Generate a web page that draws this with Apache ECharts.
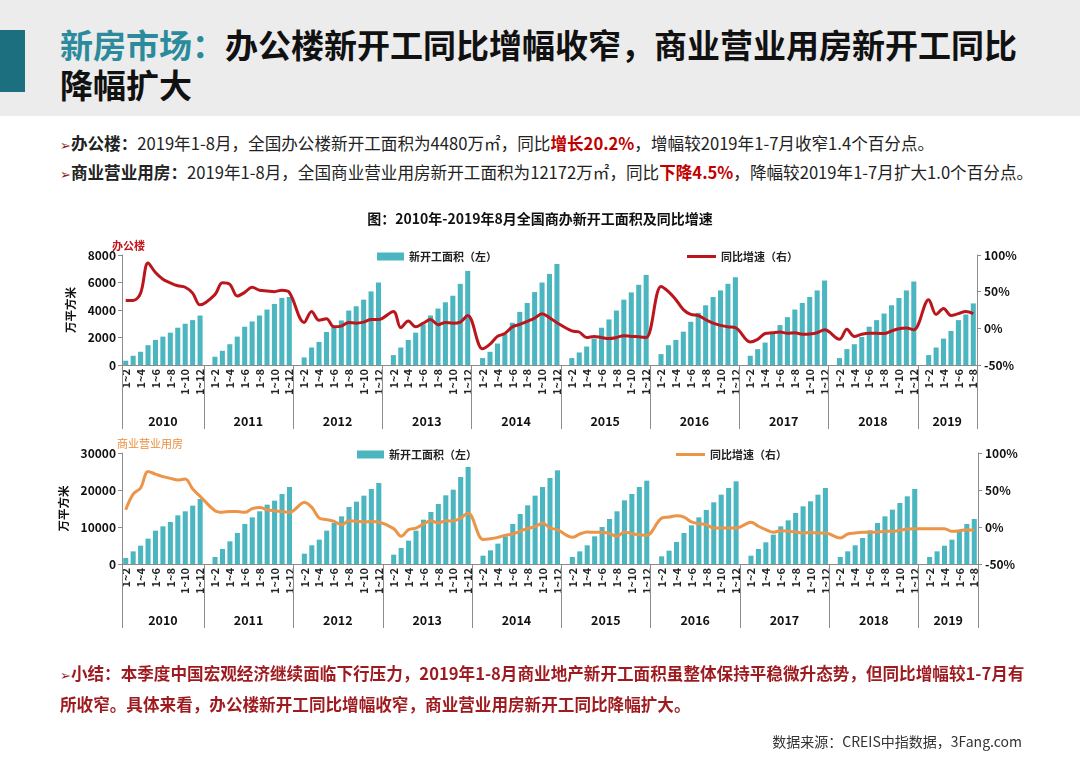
<!DOCTYPE html>
<html><head><meta charset="utf-8">
<script src="https://cdn.jsdelivr.net/npm/echarts@6/dist/echarts.min.js"></script>
<style>
html,body{margin:0;padding:0;background:#fff;}
#page{position:relative;width:1080px;height:764px;overflow:hidden;background:#fff;font-family:"Noto Sans CJK SC","Noto Sans",sans-serif;}
#hdr{position:absolute;left:0;top:0;width:1080px;height:116px;background:#ececec;}
#bar{position:absolute;left:0;top:30px;width:25px;height:62px;background:#1b6f7f;}
#title{position:absolute;left:60px;top:24px;font-size:33px;font-weight:bold;line-height:40px;color:#111;white-space:nowrap;}
#title .hl{color:#2b8b9c;}
.bul{position:absolute;left:60px;font-size:16.6px;color:#222;white-space:nowrap;}
.arr{color:#8b1a1a;font-family:"DejaVu Sans",sans-serif;font-size:13px;}
.red{color:#c00000;font-weight:bold;}
#chart{position:absolute;left:0;top:0;width:1080px;height:764px;}
#sum{position:absolute;left:60px;top:659px;font-size:16.6px;font-weight:bold;color:#9e1a1e;line-height:29px;white-space:nowrap;}
#src{position:absolute;right:58px;top:731px;font-size:14px;color:#333;white-space:nowrap;}
</style>
</head><body>
<div id="page">
  <div id="hdr"></div>
  <div id="bar"></div>
  <div id="title"><span class="hl">新房市场：</span>办公楼新开工同比增幅收窄，商业营业用房新开工同比<br>降幅扩大</div>
  <div class="bul" style="top:131px;"><span class="arr">➢</span><b>办公楼：</b>2019年1-8月，全国办公楼新开工面积为4480万㎡，同比<span class="red">增长20.2%</span>，增幅较2019年1-7月收窄1.4个百分点。</div>
  <div class="bul" style="top:160px;"><span class="arr">➢</span><b>商业营业用房：</b>2019年1-8月，全国商业营业用房新开工面积为12172万㎡，同比<span class="red">下降4.5%</span>，降幅较2019年1-7月扩大1.0个百分点。</div>
  <div id="chart"></div>
  <div id="sum"><span class="arr">➢</span>小结：本季度中国宏观经济继续面临下行压力，2019年1-8月商业地产新开工面积虽整体保持平稳微升态势，但同比增幅较1-7月有<br>所收窄。具体来看，办公楼新开工同比增幅收窄，商业营业用房新开工同比降幅扩大。</div>
  <div id="src">数据来源：CREIS中指数据，3Fang.com</div>
</div>
<script>
// ---------- data ----------
const years = ['2010','2011','2012','2013','2014','2015','2016','2017','2018','2019'];
const periodLabels = ['1~2','1~3','1~4','1~5','1~6','1~7','1~8','1~9','1~10','1~11','1~12'];
const periodsPerYear = [11,11,11,11,11,11,11,11,11,7];

const officeArea = [
  312,672,960,1440,1824,2064,2352,2712,3000,3264,3600,
  600,1032,1512,2064,2784,3168,3600,4032,4440,4880,4950,
  552,1272,1680,2400,2784,3240,3960,4272,4752,5352,6000,
  720,1272,1824,2352,2952,3600,4104,4560,5040,5904,6840,
  504,960,1560,2232,3072,3864,4512,5304,6000,6624,7344,
  504,912,1344,1920,2712,3312,3960,4752,5280,5832,6552,
  792,1440,1824,2424,3144,3792,4344,4944,5424,5904,6384,
  672,1152,1632,2280,2904,3480,4032,4512,4944,5424,6144,
  504,1152,1512,2040,2784,3264,3744,4344,4872,5424,6072,
  720,1272,1920,2472,3264,3672,4480
];
const officeYoY = [
  38,38,48,89,76,67,62,58,56,48,32,
  46,62,60,44,49,56,52,51,50,52,49,
  8,23,11,13,2,3,8,7,8.5,12,12,
  23,1,10,2,7,12,5,8,7,8.5,17.5,
  -28,-21.6,-11,-7,2,5.4,9.5,14,20,14.5,7.7,
  -3.6,-5,-12.6,-11,-12.6,-14,-12.6,-10,-11,-11.5,-12.6,
  57,50,39,25.6,19,17.5,12,7,4,2,1,
  -18.5,-15,-7,-6,-5,-6.8,-6,-8,-7.7,-6,-2,
  -15,-1.4,-11,-8,-6.8,-6.8,-7,-3.6,-0.5,0.5,-2,
  39,19,27,17.5,20,23,20.2
];
const commArea = [
  1620,3420,4950,6850,9010,10180,11350,13150,14240,15770,17570,
  1890,4050,6130,8380,10810,12610,14240,16040,17120,18920,20810,
  2790,5050,6580,9010,11080,12880,15410,16850,18470,20270,21890,
  2520,4320,6310,9010,11980,14050,16220,18560,20090,23520,26220,
  2250,3690,5500,7480,10810,13510,15860,18470,20810,23240,25320,
  1890,3420,5050,7480,10000,12160,14240,17210,18920,20810,22520,
  2070,3600,5950,8380,10450,12610,14600,16670,18740,20540,22340,
  2250,4050,5860,7930,10180,11800,13780,15590,16940,18740,20540,
  1890,3420,5050,7030,9100,11080,12880,14690,16490,18290,20270,
  1890,3420,4950,6580,9010,10810,12172
];
const commYoY = [
  23.4,44.5,52.7,75,71.5,68,65.7,63.5,64.8,51.3,41.4,
  22,20,21,21,19.8,24.8,26.5,23.4,22,21,19.8,
  33,26.5,12,10,7.6,3,8.5,7.6,6.8,7.6,6.8,
  -2.2,-12.6,-3.6,-1.4,4,8.5,5.4,8.5,8,12,19,
  -17,-16,-14,-11,-9.5,-5.5,-2,0.5,5.4,-1.4,-3.6,
  -14,-9.5,-6.8,-7.2,-7.2,-9,-12.6,-6.8,-9,-10.4,-11.3,
  12,13.5,15.3,13.5,6.8,4.5,3,-1.4,-1.4,-1.4,-1.4,
  6.3,1,-3.6,-7.2,-5,-5.9,-6.8,-8.1,-7.2,-8.1,-8.1,
  -14.9,-9.5,-8.1,-7.2,-7.2,-6.8,-5.9,-5.9,-4.5,-2.7,-2.2,
  -2.2,-2.2,-2.2,-5.9,-5,-3.6,-4.5
];
const officeAxisLeft = {min:0, max:8000, interval:2000};
const commAxisLeft = {min:0, max:30000, interval:10000};
const yoyAxis = {min:-50, max:100, interval:50};

// ---------- build categories (a blank slot opens each year after 2010) ----------
const categories = [];
const yearStart = {};
const yearMid = {};
const evenSpan = {};
(function(){
  let pos = 0;
  years.forEach((y, k) => {
    const start = pos;
    if (k > 0) { categories.push(y + '|'); pos++; }
    for (let m = 0; m < periodsPerYear[k]; m++) { categories.push(y + '|' + periodLabels[m]); pos++; }
    const span = pos - start;
    yearStart[start] = true;
    yearMid[start + Math.floor((span - 1) / 2)] = true;
    evenSpan[y] = (span % 2 === 0);
  });
})();
function pad(values) {
  const out = []; let p = 0;
  years.forEach((y, k) => {
    if (k > 0) out.push(null);
    for (let m = 0; m < periodsPerYear[k]; m++) out.push(values[p++]);
  });
  return out;
}

const FONT = '"Noto Sans CJK SC","Noto Sans",sans-serif';
const axisGrey = '#8c8c8c';
const barColor = '#4bb6c0';
const officeLine = '#bb161c';
const commLine = '#ec9448';
const SEP_LEN = 64;

function xAxes(gi) {
  return [{
    type:'category', gridIndex:gi, data:categories, position:'bottom', offset:0,
    axisLine:{show:true, onZero:false, lineStyle:{color:axisGrey, width:1}},
    axisTick:{show:false},
    axisLabel:{
      rotate:90, margin:4, fontSize:11, color:'#222', fontFamily:FONT, fontWeight:'bold',
      interval:function(index, value){
        const lab = String(value).split('|')[1];
        if (!lab) return false;
        return parseInt(lab.split('~')[1], 10) % 2 === 0;
      },
      formatter:function(value){ return String(value).split('|')[1]; }
    },
    splitLine:{show:false}
  },{
    type:'category', gridIndex:gi, data:categories, position:'bottom', offset:0,
    axisLine:{show:true, onZero:false, lineStyle:{color:axisGrey, width:1}},
    axisTick:{show:false},
    axisLabel:{
      margin:50, fontSize:12.5, fontWeight:'bold', color:'#111', fontFamily:FONT,
      interval:function(index){ return !!yearMid[index]; },
      formatter:function(value){
        const y = String(value).split('|')[0];
        return evenSpan[y] ? '{s|' + y + '}' : '{n|' + y + '}';
      },
      rich:{
        s:{padding:[0,0,0,7.4], fontSize:12.5, fontWeight:'bold', color:'#111', fontFamily:FONT},
        n:{fontSize:12.5, fontWeight:'bold', color:'#111', fontFamily:FONT}
      }
    },
    splitLine:{show:false}
  }];
}
function yAxes(gi, left) {
  return [{
    type:'value', gridIndex:gi, position:'left', min:left.min, max:left.max, interval:left.interval,
    name:'万平方米', nameLocation:'middle', nameRotate:90, nameGap: gi === 0 ? 45 : 49,
    nameTextStyle:{fontSize:11.5, fontWeight:'bold', color:'#111', fontFamily:FONT},
    axisLine:{show:true, lineStyle:{color:axisGrey}},
    axisTick:{show:true, length:4, lineStyle:{color:axisGrey}},
    axisLabel:{fontSize:12, fontWeight:'bold', color:'#111', margin:6, fontFamily:FONT,
      formatter:function(v){ return String(v); }},
    splitLine:{show:false}
  },{
    type:'value', gridIndex:gi, position:'right', min:yoyAxis.min, max:yoyAxis.max, interval:yoyAxis.interval,
    axisLine:{show:true, lineStyle:{color:axisGrey}},
    axisTick:{show:true, length:4, lineStyle:{color:axisGrey}},
    axisLabel:{fontSize:12, fontWeight:'bold', color:'#111', margin:7, fontFamily:FONT,
      formatter:function(v){ return String(v) + '%'; }},
    splitLine:{show:false}
  }];
}

const chart = echarts.init(document.getElementById('chart'), null, {renderer:'canvas'});
const legendText = {fontSize:11, fontWeight:'bold', color:'#222', fontFamily:FONT};
chart.setOption({
  animation:false,
  backgroundColor:'transparent',
  title:[
    {text:'图：2010年-2019年8月全国商办新开工面积及同比增速', left:'center', top:207,
      textStyle:{fontSize:14, fontWeight:'bold', color:'#111', fontFamily:FONT}},
    {text:'办公楼', left:107, top:235, textStyle:{fontSize:11, fontWeight:'bold', color:'#c0161c', fontFamily:FONT}},
    {text:'商业营业用房', left:112, top:433, textStyle:{fontSize:11, fontWeight:'normal', color:'#e8903f', fontFamily:FONT}}
  ],
  legend:[
    {data:['新开工面积（左）'], left:372, top:246, icon:'rect', itemWidth:27, itemHeight:8, textStyle:legendText, selectedMode:false},
    {data:['同比增速（右）'], left:682, top:246, icon:'rect', itemWidth:29, itemHeight:3, textStyle:legendText, selectedMode:false},
    {data:['新开工面积 （左）'], left:352, top:444, icon:'rect', itemWidth:27, itemHeight:8, textStyle:legendText, selectedMode:false,
      formatter:function(){ return '新开工面积（左）'; }},
    {data:['同比增速 （右）'], left:671, top:444, icon:'rect', itemWidth:29, itemHeight:3, textStyle:legendText, selectedMode:false,
      formatter:function(){ return '同比增速（右）'; }}
  ],
  grid:[
    {left:122, right:103, top:255, height:110, outerBoundsMode:'none'},
    {left:122, right:102, top:453, height:111, outerBoundsMode:'none'}
  ],
  xAxis:[].concat(xAxes(0), xAxes(1)),
  yAxis:[].concat(yAxes(0, officeAxisLeft), yAxes(1, commAxisLeft)),
  series:[
    {name:'新开工面积（左）', type:'bar', xAxisIndex:0, yAxisIndex:0, data:pad(officeArea),
      barWidth:'68%', itemStyle:{color:barColor}},
    {name:'同比增速（右）', type:'line', xAxisIndex:0, yAxisIndex:1, data:pad(officeYoY),
      smooth:0.35, symbol:'none', connectNulls:true, lineStyle:{color:officeLine, width:3}, itemStyle:{color:officeLine}, z:3},
    {name:'新开工面积 （左）', type:'bar', xAxisIndex:2, yAxisIndex:2, data:pad(commArea),
      barWidth:'68%', itemStyle:{color:barColor}},
    {name:'同比增速 （右）', type:'line', xAxisIndex:2, yAxisIndex:3, data:pad(commYoY),
      smooth:0.35, symbol:'none', connectNulls:true, lineStyle:{color:commLine, width:3}, itemStyle:{color:commLine}, z:3}
  ]
});

// Year separators: positioned from the category axis scale (band edges at each year start + axis end)
function separatorGraphics() {
  const g = [];
  [[0, 0], [2, 2]].forEach(function(pair){
    const xi = pair[0], yi = pair[1];
    const c0 = chart.convertToPixel({xAxisIndex: xi}, 0);
    const c1 = chart.convertToPixel({xAxisIndex: xi}, 1);
    const band = c1 - c0;
    const yb = Math.round(chart.convertToPixel({yAxisIndex: yi}, 0));
    const edges = Object.keys(yearStart).map(Number).concat([categories.length]);
    edges.forEach(function(i){
      const x = Math.round(c0 + (i - 0.5) * band) + 0.5;
      g.push({type:'line', silent:true, z:10,
        shape:{x1:x, y1:yb, x2:x, y2:yb + SEP_LEN},
        style:{stroke:axisGrey, lineWidth:1}});
    });
  });
  return g;
}
chart.setOption({graphic: separatorGraphics()});
</script>
</body></html>
